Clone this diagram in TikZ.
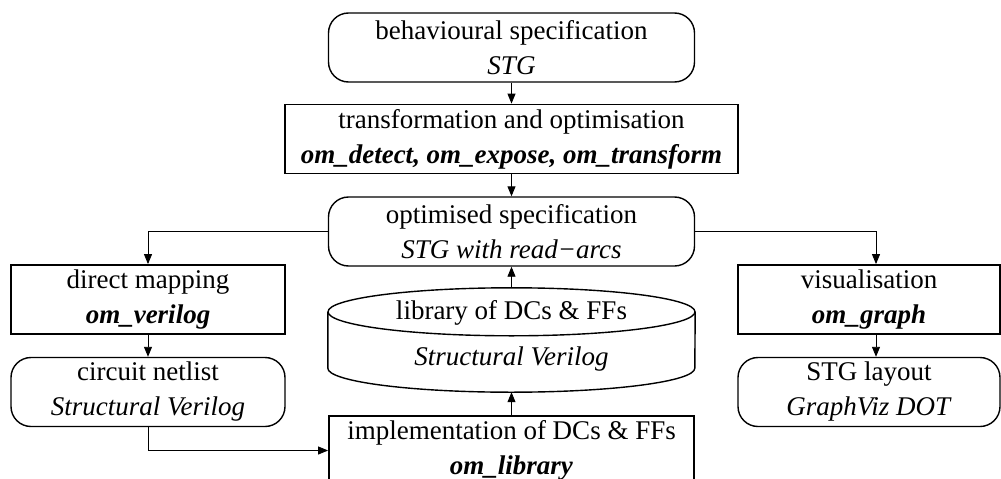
\documentclass[tikz,border=0pt]{standalone}
\usepackage{fontspec}
\setmainfont{Liberation Serif}
\usetikzlibrary{arrows.meta,calc}
\begin{document}
\begin{tikzpicture}[x=1pt,y=-1pt,
  every node/.style={font=\fontsize{27}{35}\selectfont, align=center, inner sep=0pt},
  sqbox/.style={draw, line width=1.8pt, minimum height=69},
  rbox/.style={draw, line width=1.4pt, rounded corners=20, minimum height=69},
  conn/.style={line width=0.9pt, -{Triangle[length=10pt,width=8pt]}}]
\useasboundingbox (0,0) rectangle (1001,479);
\clip (0,0) rectangle (1001,479);
\node[rbox, minimum width=366] (beh) at (511.5,47.5) {behavioural specification\\\textit{STG}};
\node[sqbox, minimum width=453] (tr) at (511.5,139) {transformation and optimisation\\\textbf{\textit{om\_detect, om\_expose, om\_transform}}};
\node[rbox, minimum width=366] (opt) at (511.5,231.5) {optimised specification\\\textit{STG with read−arcs}};
\node[sqbox, minimum width=274] (dm) at (148,299.5) {direct mapping\\\textbf{\textit{om\_verilog}}};
\node[rbox, minimum width=274] (cn) at (148,392) {circuit netlist\\\textit{Structural Verilog}};
\node[sqbox, minimum width=262] (vis) at (869,299.5) {visualisation\\\textbf{\textit{om\_graph}}};
\node[rbox, minimum width=262] (stg) at (869,392) {STG layout\\\textit{GraphViz DOT}};
\node[sqbox, minimum width=365] (impl) at (511.5,450.5) {implementation of DCs \& FFs\\\textbf{\textit{om\_library}}};
\node[minimum width=367, minimum height=104] (cyl) at (511.5,340) {};
\node (cyltext) at (511.5,336) {library of DCs \& FFs\\[11pt]\textit{Structural Verilog}};
\draw[line width=1.4pt] ($(cyl.north)+(0,24)$) ellipse [x radius=183.5pt, y radius=24pt];
\draw[line width=1.4pt] ($(cyl.north west)+(0,24)$) -- ($(cyl.south west)+(0,-24)$)
  arc[start angle=180, end angle=360, x radius=183.5pt, y radius=24pt] -- ($(cyl.north east)+(0,24)$);
\draw[conn] (beh) -- (tr);
\draw[conn] (tr) -- (opt);
\draw[conn] (opt.west) -| (dm.north);
\draw[conn] (opt.east) -| ($(vis.north)+(7,0)$);
\draw[conn] (dm) -- (cn);
\draw[conn] ($(vis.south)+(7,0)$) -- ($(stg.north)+(7,0)$);
\draw[conn] (cn.south) |- (impl.west);
\draw[conn] (impl.north) -- (cyl.south);
\draw[conn] (cyl.north) -- (opt.south);
\end{tikzpicture}
\end{document}
